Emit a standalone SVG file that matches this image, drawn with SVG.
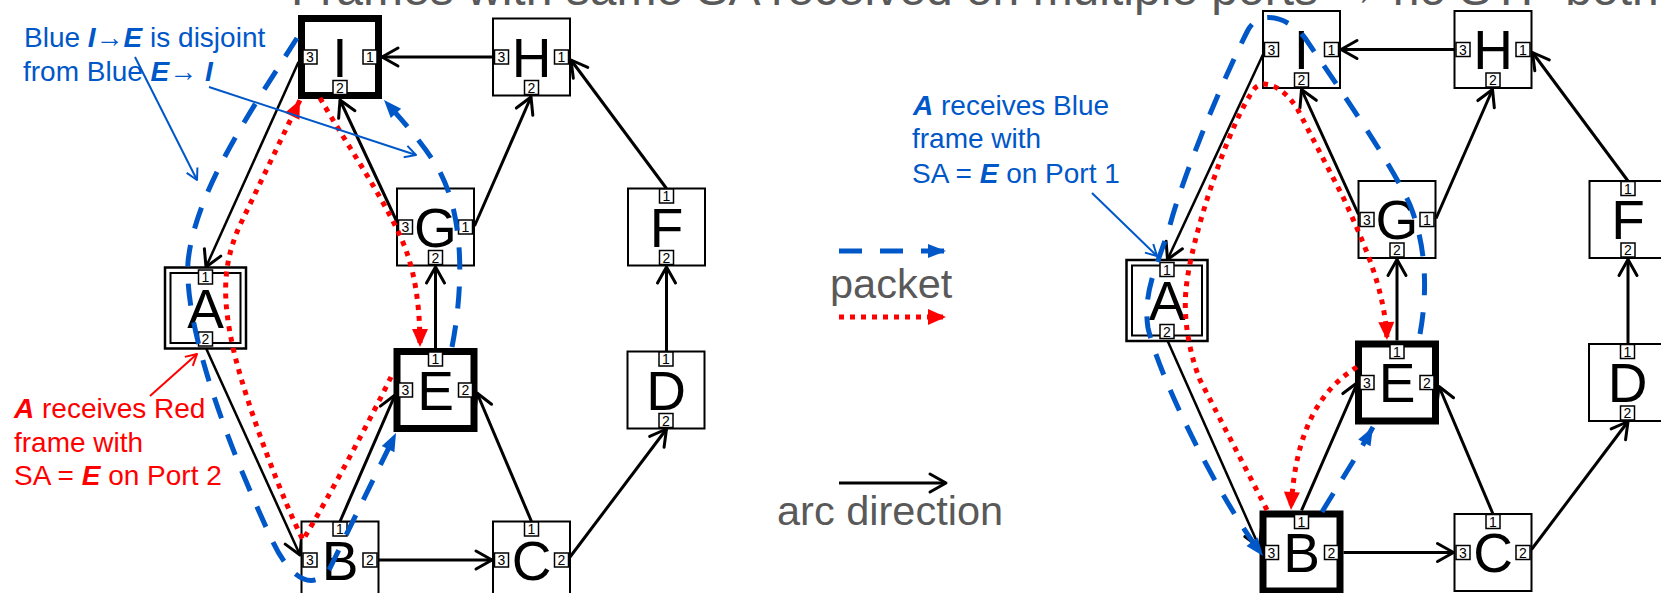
<svg xmlns="http://www.w3.org/2000/svg" width="1661" height="593" viewBox="0 0 1661 593">
<style>
text{font-family:"Liberation Sans",Arial,sans-serif}
.nb{fill:#fff;stroke:#000;stroke-width:2}
.nt{fill:#fff;stroke:#000;stroke-width:7}
.pt{fill:#fff;stroke:#000;stroke-width:1.5}
.pl{font-size:14px;text-anchor:middle;fill:#000}
.big{font-size:55px;text-anchor:middle;fill:#000}
.arc{fill:none;stroke:#000;stroke-width:3;marker-end:url(#chev)}
.arcA{fill:none;stroke:#000;stroke-width:2.5;marker-end:url(#chev)}
.blue{fill:none;stroke:#0057C8;stroke-width:5;stroke-dasharray:22 17;marker-end:url(#btri)}
.red{fill:none;stroke:#f00;stroke-width:5;stroke-dasharray:5 6;marker-end:url(#rtri)}
.bi{font-weight:bold;font-style:italic}
.annb{font-size:28px;fill:#0057C8}
.annr{font-size:28px;fill:#f00}
.leg{font-size:41.5px;fill:#595959}
.title{font-size:48px;fill:#595959}
.ldb{fill:none;stroke:#0057C8;stroke-width:2;marker-end:url(#bchev)}
.ldr{fill:none;stroke:#f00;stroke-width:2;marker-end:url(#rchev)}
</style>
<defs>
<marker id="chev" markerUnits="userSpaceOnUse" markerWidth="24" markerHeight="24" viewBox="-20 -12 24 24" refX="0" refY="0" orient="auto" overflow="visible"><path d="M-16,-9 L0,0 L-16,9" fill="none" stroke="#000" stroke-width="3" stroke-linecap="round" stroke-linejoin="round"/></marker>
<marker id="bchev" markerUnits="userSpaceOnUse" markerWidth="16" markerHeight="16" viewBox="-13 -8 16 16" refX="0" refY="0" orient="auto" overflow="visible"><path d="M-11,-6 L0,0 L-11,6" fill="none" stroke="#0057C8" stroke-width="2" stroke-linejoin="round"/></marker>
<marker id="rchev" markerUnits="userSpaceOnUse" markerWidth="16" markerHeight="16" viewBox="-13 -8 16 16" refX="0" refY="0" orient="auto" overflow="visible"><path d="M-11,-6 L0,0 L-11,6" fill="none" stroke="#f00" stroke-width="2" stroke-linejoin="round"/></marker>
<marker id="btri" markerUnits="userSpaceOnUse" markerWidth="18" markerHeight="14" viewBox="-18 -7 18 14" refX="0" refY="0" orient="auto" overflow="visible"><path d="M-18,-7 L0,0 L-18,7 z" fill="#0057C8"/></marker>
<marker id="rtri" markerUnits="userSpaceOnUse" markerWidth="18" markerHeight="16" viewBox="-18 -8 18 16" refX="0" refY="0" orient="auto" overflow="visible"><path d="M-18,-8 L0,0 L-18,8 z" fill="#f00"/></marker>
</defs>

<text class="title" x="291" y="5">Frames with same SA received on multiple ports → no STP both</text>

<!-- LEFT DIAGRAM -->
<g id="left-connectors">
<path class="arc" d="M493,57 L382,57"/>
<path class="arc" d="M666.5,188.5 L571,60"/>
<path class="arc" d="M474.5,226 L531,97"/>
<path class="arc" d="M397,222 L340,100"/>
<path class="arcA" d="M298.5,62 L206,267"/>
<path class="arcA" d="M205.5,347 L300,555"/>
<path class="arc" d="M340,521.5 L395,395"/>
<path class="arc" d="M378.5,560 L492,560"/>
<path class="arc" d="M531.5,521.5 L477,393"/>
<path class="arc" d="M570,557 L666.5,429"/>
<path class="arc" d="M666.5,351.5 L666.5,267"/>
<path class="arc" d="M435.5,348 L435.5,267"/>
</g>

<g id="L-I"><rect class="nt" x="301.5" y="18.5" width="77" height="77"/>
<rect class="pt" x="303" y="50" width="14" height="14"/><text class="pl" x="310" y="62">3</text>
<rect class="pt" x="363" y="50" width="14" height="14"/><text class="pl" x="370" y="62">1</text>
<rect class="pt" x="333" y="80.5" width="14" height="14"/><text class="pl" x="340" y="92.5">2</text>
<text class="big" x="340" y="76.5">I</text></g>
<g id="L-H"><rect class="nb" x="493" y="18.5" width="77" height="77"/>
<rect class="pt" x="494.5" y="50" width="14" height="14"/><text class="pl" x="501.5" y="62">3</text>
<rect class="pt" x="554.5" y="50" width="14" height="14"/><text class="pl" x="561.5" y="62">1</text>
<rect class="pt" x="524.5" y="80.5" width="14" height="14"/><text class="pl" x="531.5" y="92.5">2</text>
<text class="big" x="531.5" y="76.5">H</text></g>
<g id="L-G"><rect class="nb" x="397" y="188.5" width="77" height="77"/>
<rect class="pt" x="398.5" y="220" width="14" height="14"/><text class="pl" x="405.5" y="232">3</text>
<rect class="pt" x="458.5" y="220" width="14" height="14"/><text class="pl" x="465.5" y="232">1</text>
<rect class="pt" x="428.5" y="250.5" width="14" height="14"/><text class="pl" x="435.5" y="262.5">2</text>
<text class="big" x="435.5" y="246.5">G</text></g>
<g id="L-F"><rect class="nb" x="628" y="188.5" width="77" height="77"/>
<rect class="pt" x="659.5" y="189" width="14" height="14"/><text class="pl" x="666.5" y="201">1</text>
<rect class="pt" x="659.5" y="250.5" width="14" height="14"/><text class="pl" x="666.5" y="262.5">2</text>
<text class="big" x="666.5" y="246.5">F</text></g>
<g id="L-A"><rect class="nb" x="165" y="267.5" width="81" height="81" style="stroke-width:2.5"/>
<rect class="nb" x="170.5" y="273" width="70" height="70"/>
<rect class="pt" x="198.5" y="270" width="14" height="14"/><text class="pl" x="205.5" y="282">1</text>
<rect class="pt" x="198.5" y="332" width="14" height="14"/><text class="pl" x="205.5" y="344">2</text>
<text class="big" x="205.5" y="327.5">A</text></g>
<g id="L-E"><rect class="nt" x="397" y="351.5" width="77" height="77"/>
<rect class="pt" x="428.5" y="352" width="14" height="14"/><text class="pl" x="435.5" y="364">1</text>
<rect class="pt" x="398.5" y="383" width="14" height="14"/><text class="pl" x="405.5" y="395">3</text>
<rect class="pt" x="458.5" y="383" width="14" height="14"/><text class="pl" x="465.5" y="395">2</text>
<text class="big" x="435.5" y="409.5">E</text></g>
<g id="L-D"><rect class="nb" x="627.5" y="351.5" width="77" height="77"/>
<rect class="pt" x="659" y="352" width="14" height="14"/><text class="pl" x="666" y="364">1</text>
<rect class="pt" x="659" y="413.5" width="14" height="14"/><text class="pl" x="666" y="425.5">2</text>
<text class="big" x="666" y="409.5">D</text></g>
<g id="L-B"><rect class="nb" x="301.5" y="521.5" width="77" height="77"/>
<rect class="pt" x="333" y="522" width="14" height="14"/><text class="pl" x="340" y="534">1</text>
<rect class="pt" x="303" y="553" width="14" height="14"/><text class="pl" x="310" y="565">3</text>
<rect class="pt" x="363" y="553" width="14" height="14"/><text class="pl" x="370" y="565">2</text>
<text class="big" x="340" y="579.5">B</text></g>
<g id="L-C"><rect class="nb" x="493" y="521.5" width="77" height="77"/>
<rect class="pt" x="524.5" y="522" width="14" height="14"/><text class="pl" x="531.5" y="534">1</text>
<rect class="pt" x="494.5" y="553" width="14" height="14"/><text class="pl" x="501.5" y="565">3</text>
<rect class="pt" x="554.5" y="553" width="14" height="14"/><text class="pl" x="561.5" y="565">2</text>
<text class="big" x="531.5" y="579.5">C</text></g>

<!-- RIGHT DIAGRAM -->
<g id="right" transform="translate(961.5 -7.5)">
<g id="right-connectors">
<path class="arc" d="M493,57 L379.5,57"/>
<path class="arc" d="M666.5,188.5 L571,60"/>
<path class="arc" d="M474.5,226 L531,97"/>
<path class="arc" d="M397,222 L340,97"/>
<path class="arcA" d="M301.5,62 L206,267"/>
<path class="arcA" d="M205.5,347 L298,555"/>
<path class="arc" d="M340,518 L396,390"/>
<path class="arc" d="M382,560 L492,560"/>
<path class="arc" d="M531.5,521.5 L477.5,394"/>
<path class="arc" d="M570,557 L666.5,429"/>
<path class="arc" d="M666.5,351.5 L666.5,267"/>
<path class="arc" d="M435.5,348 L435.5,267"/>
</g>
<g id="R-I"><rect class="nb" x="301.5" y="18.5" width="77" height="77"/>
<rect class="pt" x="303" y="50" width="14" height="14"/><text class="pl" x="310" y="62">3</text>
<rect class="pt" x="363" y="50" width="14" height="14"/><text class="pl" x="370" y="62">1</text>
<rect class="pt" x="333" y="80.5" width="14" height="14"/><text class="pl" x="340" y="92.5">2</text>
<text class="big" x="340" y="76.5">I</text></g>
<g id="R-H"><rect class="nb" x="493" y="18.5" width="77" height="77"/>
<rect class="pt" x="494.5" y="50" width="14" height="14"/><text class="pl" x="501.5" y="62">3</text>
<rect class="pt" x="554.5" y="50" width="14" height="14"/><text class="pl" x="561.5" y="62">1</text>
<rect class="pt" x="524.5" y="80.5" width="14" height="14"/><text class="pl" x="531.5" y="92.5">2</text>
<text class="big" x="531.5" y="76.5">H</text></g>
<g id="R-G"><rect class="nb" x="397" y="188.5" width="77" height="77"/>
<rect class="pt" x="398.5" y="220" width="14" height="14"/><text class="pl" x="405.5" y="232">3</text>
<rect class="pt" x="458.5" y="220" width="14" height="14"/><text class="pl" x="465.5" y="232">1</text>
<rect class="pt" x="428.5" y="250.5" width="14" height="14"/><text class="pl" x="435.5" y="262.5">2</text>
<text class="big" x="435.5" y="246.5">G</text></g>
<g id="R-F"><rect class="nb" x="628" y="188.5" width="77" height="77"/>
<rect class="pt" x="659.5" y="189" width="14" height="14"/><text class="pl" x="666.5" y="201">1</text>
<rect class="pt" x="659.5" y="250.5" width="14" height="14"/><text class="pl" x="666.5" y="262.5">2</text>
<text class="big" x="666.5" y="246.5">F</text></g>
<g id="R-A"><rect class="nb" x="165" y="267.5" width="81" height="81" style="stroke-width:2.5"/>
<rect class="nb" x="170.5" y="273" width="70" height="70"/>
<rect class="pt" x="198.5" y="270" width="14" height="14"/><text class="pl" x="205.5" y="282">1</text>
<rect class="pt" x="198.5" y="332" width="14" height="14"/><text class="pl" x="205.5" y="344">2</text>
<text class="big" x="205.5" y="327.5">A</text></g>
<g id="R-E"><rect class="nt" x="397" y="351.5" width="77" height="77"/>
<rect class="pt" x="428.5" y="352" width="14" height="14"/><text class="pl" x="435.5" y="364">1</text>
<rect class="pt" x="398.5" y="383" width="14" height="14"/><text class="pl" x="405.5" y="395">3</text>
<rect class="pt" x="458.5" y="383" width="14" height="14"/><text class="pl" x="465.5" y="395">2</text>
<text class="big" x="435.5" y="409.5">E</text></g>
<g id="R-D"><rect class="nb" x="627.5" y="351.5" width="77" height="77"/>
<rect class="pt" x="659" y="352" width="14" height="14"/><text class="pl" x="666" y="364">1</text>
<rect class="pt" x="659" y="413.5" width="14" height="14"/><text class="pl" x="666" y="425.5">2</text>
<text class="big" x="666" y="409.5">D</text></g>
<g id="R-B"><rect class="nt" x="301.5" y="521.5" width="77" height="77"/>
<rect class="pt" x="333" y="522" width="14" height="14"/><text class="pl" x="340" y="534">1</text>
<rect class="pt" x="303" y="553" width="14" height="14"/><text class="pl" x="310" y="565">3</text>
<rect class="pt" x="363" y="553" width="14" height="14"/><text class="pl" x="370" y="565">2</text>
<text class="big" x="340" y="579.5">B</text></g>
<g id="R-C"><rect class="nb" x="493" y="521.5" width="77" height="77"/>
<rect class="pt" x="524.5" y="522" width="14" height="14"/><text class="pl" x="531.5" y="534">1</text>
<rect class="pt" x="494.5" y="553" width="14" height="14"/><text class="pl" x="501.5" y="565">3</text>
<rect class="pt" x="554.5" y="553" width="14" height="14"/><text class="pl" x="561.5" y="565">2</text>
<text class="big" x="531.5" y="579.5">C</text></g>
</g>

<!-- PACKET PATHS -->
<g id="packets">
<path class="blue" d="M297,38 C255,105 195,190 188,262 C184,330 230,450 272,540 C288,575 312,595 330,568 L396,433"/>
<path class="blue" d="M452,347 C463,290 465,220 440,172 C425,145 400,118 384,100"/>
<path class="red" d="M320,98 C350,150 392,210 407,253 C418,285 420,320 420,347"/>
<path class="red" d="M391,377 C370,420 330,495 303,540 C285,505 248,410 234,352 C222,300 222,265 240,225 L300,100"/>
<path class="blue" d="M1322,512 C1335,490 1355,460 1373,427"/>
<path class="blue" d="M1420,334 C1428,290 1426,245 1410,205 C1390,160 1330,75 1305,38 C1290,18 1260,8 1248,30 C1225,75 1185,170 1170,225 C1160,260 1142,290 1148,328 C1160,380 1220,500 1263,556"/>
<path class="red" d="M1267,510 L1200,380 C1190,355 1183,320 1186,290 C1190,240 1230,120 1255,88 C1265,78 1285,88 1298,110 L1343,197 C1365,245 1385,290 1387,340"/>
<path class="red" d="M1357,367 C1320,390 1295,430 1291,510"/>
</g>

<!-- ANNOTATIONS -->
<g id="annotations">
<text class="annb" x="24" y="47">Blue <tspan class="bi">I→E</tspan> is disjoint</text>
<text class="annb" x="23" y="81">from Blue <tspan class="bi">E→ I</tspan></text>
<path class="ldb" d="M135,57 L197,180"/>
<path class="ldb" d="M209,87 L416,155"/>
<text class="annr" x="14" y="418"><tspan class="bi">A</tspan> receives Red</text>
<text class="annr" x="14" y="452">frame with</text>
<text class="annr" x="14" y="485">SA = <tspan class="bi">E</tspan> on Port 2</text>
<path class="ldr" d="M150,396 L197,354"/>
<text class="annb" x="913" y="115"><tspan class="bi">A</tspan> receives Blue</text>
<text class="annb" x="912" y="148">frame with</text>
<text class="annb" x="912" y="183">SA = <tspan class="bi">E</tspan> on Port 1</text>
<path class="ldb" d="M1092,193 L1157,256"/>
</g>

<!-- LEGEND -->
<g id="legend">
<path class="blue" d="M839,251 L946,251" style="stroke-dasharray:23 18"/>
<text class="leg" x="830" y="298">packet</text>
<path class="red" d="M839,317 L946,317"/>
<path class="arc" d="M839,483 L946,483"/>
<text class="leg" x="777" y="525">arc direction</text>
</g>
</svg>
